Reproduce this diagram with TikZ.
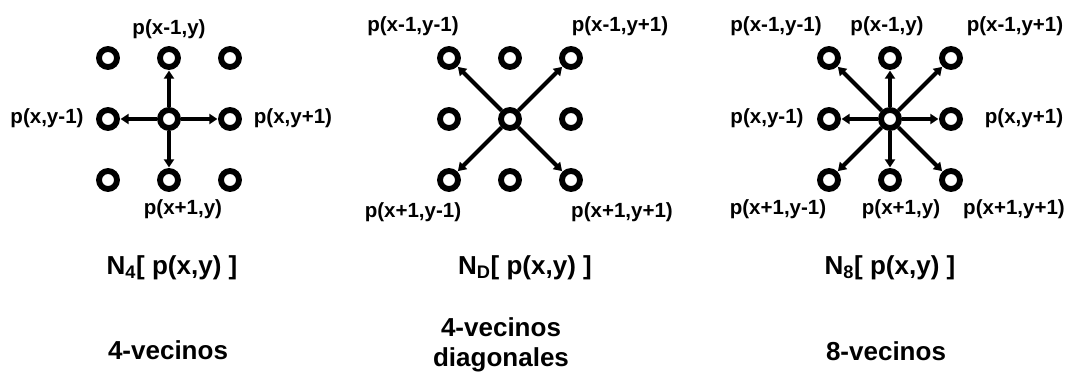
\documentclass[tikz,border=0pt]{standalone}
\usepackage{fontspec}
\setmainfont{Liberation Sans}
\usetikzlibrary{arrows.meta}

\begin{document}
\begin{tikzpicture}
  [x=0.75pt,y=-0.75pt,
   pix/.style={circle,draw,fill=white,line width=4.4pt,minimum size=13.5pt,inner sep=0pt},
   arr/.style={line width=3pt,-{Triangle[length=6pt,width=7.5pt]},shorten >=0.5pt},
   lab/.style={font=\fontsize{15.4}{18}\selectfont\bfseries},
   ttl/.style={font=\fontsize{19.5}{22.5}\selectfont\bfseries,align=center}]
  \useasboundingbox (0,0) rectangle (1068,376);

  % grids of pixels
  \foreach \p/\x in {l/108,m/449,r/829}
    \foreach \i/\y in {1/58,2/119,3/180}
      \foreach \j/\d in {1/0,2/61,3/122}
        \node[pix] (\p\i\j) at (\x+\d,\y) {};

  % neighbours
  \foreach \to in {12,21,23,32}
    \draw[arr] (l22) -- (l\to);
  \foreach \to in {11,13,31,33}
    \draw[arr] (m22) -- (m\to);
  \foreach \to in {11,12,13,21,23,31,32,33}
    \draw[arr] (r22) -- (r\to);

  % labels
  \node[lab] (lt) at (169,29)  {p(x-1,y)};
  \node[lab] (ll) at (47,118)  {p(x,y-1)};
  \node[lab] (lr) at (293,118) {p(x,y+1)};
  \node[lab] (lb) at (183,209) {p(x+1,y)};

  \node[lab] (mtl) at (413,26)  {p(x-1,y-1)};
  \node[lab] (mtr) at (620,26)  {p(x-1,y+1)};
  \node[lab] (mbl) at (413,212) {p(x+1,y-1)};
  \node[lab] (mbr) at (622,212) {p(x+1,y+1)};

  \node[lab] (rtl) at (776,26)   {p(x-1,y-1)};
  \node[lab] (rt)  at (887,26)   {p(x-1,y)};
  \node[lab] (rtr) at (1015,26)  {p(x-1,y+1)};
  \node[lab] (rl)  at (767,118)  {p(x,y-1)};
  \node[lab] (rr)  at (1024,118) {p(x,y+1)};
  \node[lab] (rbl) at (778,209)  {p(x+1,y-1)};
  \node[lab] (rb)  at (901,209)  {p(x+1,y)};
  \node[lab] (rbr) at (1014,209) {p(x+1,y+1)};

  % titles
  \node[ttl] (ln) at (172,268) {N\textsubscript{4}[ p(x,y) ]};
  \node[ttl] (mn) at (525,268) {N\textsubscript{D}[ p(x,y) ]};
  \node[ttl] (rn) at (890,268) {N\textsubscript{8}[ p(x,y) ]};

  \node[ttl] (lc) at (168,350) {4-vecinos};
  \node[ttl] (mc) at (501,345) {4-vecinos\\diagonales};
  \node[ttl] (rc) at (886,351) {8-vecinos};

\end{tikzpicture}
\end{document}
